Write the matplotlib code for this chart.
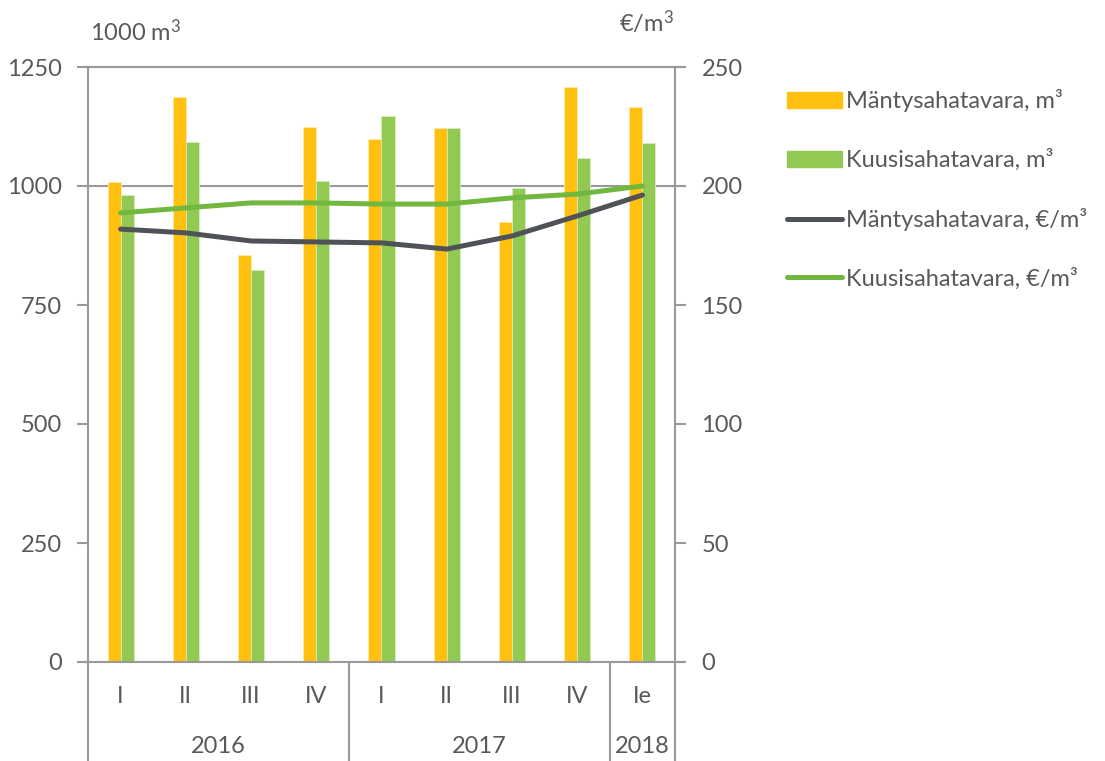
import numpy as np
import matplotlib.pyplot as plt
from matplotlib.transforms import blended_transform_factory
from matplotlib.patches import Patch
from matplotlib.lines import Line2D

# quarters and years
quarters = ['I', 'II', 'III', 'IV', 'I', 'II', 'III', 'IV', 'Ie']
years = ['2016', '2017', '2018']
year_span = [(0, 3), (4, 7), (8, 8)]

# volumes, 1000 m3
pine_vol = [1008, 1187, 855, 1124, 1099, 1122, 924, 1208, 1166]
spruce_vol = [981, 1092, 824, 1010, 1147, 1122, 996, 1059, 1090]

# prices, eur/m3
pine_price = [181.9, 180.3, 176.9, 176.5, 176.1, 173.5, 179.0, 187.4, 196.2]
spruce_price = [188.7, 190.8, 192.9, 192.9, 192.4, 192.4, 195.0, 196.6, 200.0]

c_orange = '#FFC010'
c_green_bar = '#92C952'
c_green_line = '#72B83F'
c_dark = '#4F5357'
c_axis = '#999999'
c_text = '#595959'

fs = 17
plt.rcParams['font.family'] = ['Lato', 'DejaVu Sans']
plt.rcParams['mathtext.fontset'] = 'custom'
plt.rcParams['mathtext.rm'] = 'Lato'
plt.rcParams['mathtext.it'] = 'Lato'
plt.rcParams['mathtext.default'] = 'rm'
plt.rcParams['font.size'] = fs
plt.rcParams['text.color'] = c_text

fig = plt.figure(figsize=(11.05, 7.61), dpi=100)
ax = fig.add_axes([88/1105, 1-662/761, (675-88)/1105, (662-67)/761])
ax2 = ax.twinx()

x = np.arange(len(quarters))
w = 0.2
ax.bar(x - w/2, pine_vol, w, color=c_orange, edgecolor='#FFE9A8', linewidth=0.6, zorder=2)
ax.bar(x + w/2, spruce_vol, w, color=c_green_bar, edgecolor='#D6EDBE', linewidth=0.6, zorder=2)
ax.axhline(1000, color=c_axis, lw=1.5, zorder=1)

ax2.plot(x, pine_price, color=c_dark, lw=3.6, solid_capstyle='round', zorder=3)
ax2.plot(x, spruce_price, color=c_green_line, lw=3.6, solid_capstyle='round', zorder=3)

ax.set_xlim(-0.5, len(quarters) - 0.5)
ax.set_ylim(0, 1250)
ax2.set_ylim(0, 250)
ax.set_yticks(np.arange(0, 1251, 250))
ax2.set_yticks(np.arange(0, 251, 50))
ax.set_xticks([])

for a in (ax, ax2):
    for s in a.spines.values():
        s.set_color(c_axis)
        s.set_linewidth(1.5)
    a.tick_params(axis='y', colors=c_axis, labelcolor=c_text, length=8, width=1.5,
                  labelsize=fs, pad=11)
ax2.spines['left'].set_visible(False)
ax.spines['right'].set_visible(False)
ax2.spines['bottom'].set_visible(False)
ax.spines['bottom'].set_bounds(-0.5 - 8/65.2, len(quarters) - 0.5 + 8/65.2)

# multi level x labels
tr = blended_transform_factory(ax.transData, ax.transAxes)
for i, q in enumerate(quarters):
    ax.text(i, -0.058, q, transform=tr, ha='center', va='center', fontsize=fs)
for yr, (a0, a1) in zip(years, year_span):
    ax.text((a0 + a1) / 2, -0.142, yr, transform=tr, ha='center', va='center', fontsize=fs)
for xs in [-0.5, 3.5, 7.5, 8.5]:
    ax.plot([xs, xs], [0, -0.168], transform=tr, color=c_axis, lw=1.5, clip_on=False)

fig.text(90/1105, 1-32/761, '1000 m$^3$', ha='left', va='center', fontsize=fs)
fig.text(646/1105, 1-22/761, '€/m$^3$', ha='center', va='center', fontsize=fs)

handles = [Patch(color=c_orange), Patch(color=c_green_bar),
           Line2D([], [], color=c_dark, lw=3.6, solid_capstyle='round'),
           Line2D([], [], color=c_green_line, lw=3.6, solid_capstyle='round')]
labels = ['Mäntysahatavara, m³', 'Kuusisahatavara, m³',
          'Mäntysahatavara, €/m³', 'Kuusisahatavara, €/m³']
fig.legend(handles, labels, loc='upper left', bbox_to_anchor=(778/1105, 1-80/761),
           frameon=False, fontsize=fs, handlelength=2.3, handleheight=0.7,
           handletextpad=0.2, labelspacing=1.55, borderaxespad=0)

fig.savefig('out.png', dpi=100)
